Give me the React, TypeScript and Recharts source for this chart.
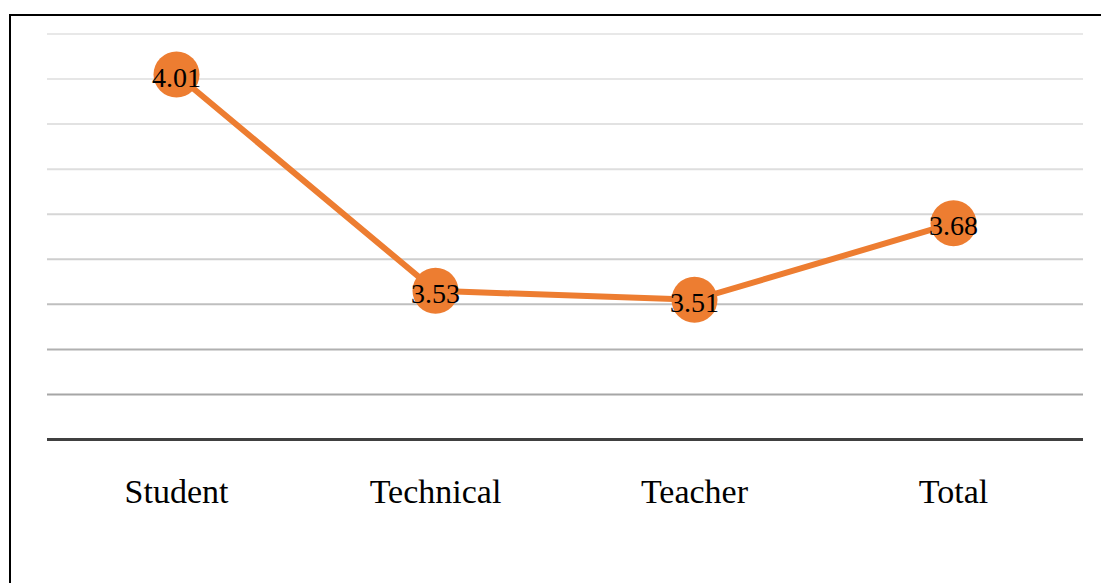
import { LineChart, Line, XAxis, YAxis, ReferenceLine } from "recharts";

const categories = ["Student", "Technical", "Teacher", "Total"];
const scores = [4.01, 3.53, 3.51, 3.68];
const gridTicks = [3.3, 3.4, 3.5, 3.6, 3.7, 3.8, 3.9, 4.0, 4.1];
const gridColors = ["#a6a6a6", "#b0b0b0", "#bfbfbf", "#cecece", "#d6d6d6", "#dedede", "#e2e2e2", "#e6e6e6", "#e8e8e8"];

const data = categories.map((name, i) => ({ name, value: scores[i] }));

const FONT = "'Liberation Serif', 'Times New Roman', serif";

const renderLabel = (props: any) => {
  const { x, y, value } = props;
  return (
    <text x={x} y={y + 12} textAnchor="middle" fontFamily={FONT} fontSize={28} fill="#000">
      {Number(value).toFixed(2)}
    </text>
  );
};

const CategoryTick = (props: any) => {
  const { x, y, payload } = props;
  return (
    <text x={x} y={y + 63} textAnchor="middle" fontFamily={FONT} fontSize={34} fill="#000">
      {payload.value}
    </text>
  );
};

const App = () => {
  return (
    <div
      style={{
        position: "absolute",
        left: 0,
        top: 0,
        width: 1101,
        height: 583,
        overflow: "hidden",
        background: "#fff",
      }}
    >
      <div
        style={{
          position: "absolute",
          left: 9,
          top: 14,
          width: 1200,
          height: 700,
          border: "2px solid #000",
        }}
      />
      <div style={{ position: "absolute", left: 0, top: 0 }}>
        <LineChart width={1101} height={583} data={data} margin={{ top: 34, right: 18, bottom: 83.5, left: 47 }}>
          <YAxis hide width={0} type="number" domain={[3.2, 4.1]} />
          {gridTicks.map((t, i) => (
            <ReferenceLine key={t} y={t} stroke={gridColors[i]} strokeWidth={2} />
          ))}
          <XAxis
            dataKey="name"
            height={60}
            padding={{ left: 129.5, right: 129.5 }}
            tickLine={false}
            tickSize={0}
            tickMargin={0}
            axisLine={{ stroke: "#404040", strokeWidth: 3 }}
            tick={<CategoryTick />}
            interval={0}
          />
          <Line
            type="linear"
            dataKey="value"
            stroke="#ED7D31"
            strokeWidth={6}
            dot={{ r: 23, fill: "#ED7D31", stroke: "none" }}
            activeDot={false}
            label={renderLabel}
            isAnimationActive={false}
          />
        </LineChart>
      </div>
    </div>
  );
};

export default App;
